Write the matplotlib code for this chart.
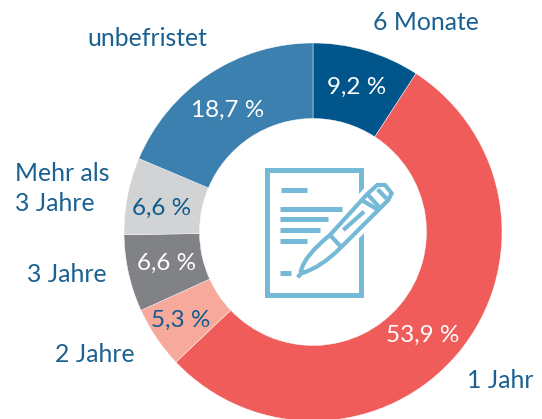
import matplotlib
matplotlib.use('Agg')
import matplotlib.pyplot as plt
from matplotlib.patches import Rectangle, PathPatch
from matplotlib.path import Path

plt.rcParams['font.family'] = ['Lato', 'DejaVu Sans']

WIDTH, HEIGHT = 542, 419

# clockwise from the top
categories = ['6 Monate', '1 Jahr', '2 Jahre', '3 Jahre', 'Mehr als\n3 Jahre', 'unbefristet']
values = [9.2, 53.9, 5.3, 6.6, 6.6, 18.7]
value_labels = ['9,2 %', '53,9 %', '5,3 %', '6,6 %', '6,6 %', '18,7 %']
colors = ['#00558b', '#ef5c5a', '#f7a99c', '#808285', '#d1d3d4', '#3b80ae']
label_colors = ['white', 'white', '#0f5b8e', 'white', '#0f5b8e', 'white']

TEXT_BLUE = '#1a6091'
ICON_BLUE = '#74b9d5'


def py(y):
    # picture y (from the top) to axes y
    return HEIGHT - y


def zoomed(x, y):
    return 250 + x / 3, py(150 + y / 3)


fig = plt.figure(figsize=(WIDTH / 100, HEIGHT / 100), dpi=100)
ax = fig.add_axes([0, 0, 1, 1])

# donut
ax.pie(values, colors=colors, startangle=90, counterclock=False,
       center=(313, py(232)), radius=189, frame=True,
       wedgeprops={'width': 75.5, 'linewidth': 0.3, 'edgecolor': '#ffffff'})
ax.set_xlim(0, WIDTH)
ax.set_ylim(0, HEIGHT)
ax.set_aspect('auto')
ax.axis('off')

# value labels, placed by hand like the original
value_pos = [(357, 87), (423, 335), (181, 320), (167, 263), (162, 208), (228, 110)]
for (x, y), text, color in zip(value_pos, value_labels, label_colors):
    ax.text(x, py(y), text, color=color, fontsize=17.5, ha='center', va='center')

# category labels
cat_pos = [(373, 23), (467, 380), (55, 354), (27, 274), (15, 188.5), (87, 39)]
for (x, y), text in zip(cat_pos, categories):
    ax.text(x, py(y), text, color=TEXT_BLUE, fontsize=17.8, ha='left', va='center',
            linespacing=1.4)

# document icon
ax.add_patch(Rectangle((266.5, py(294.5)), 94, 124, fill=False, edgecolor=ICON_BLUE, linewidth=3.6))
text_lines = [(93, 120, 170), (91, 176, 275), (91, 208, 235), (91, 240, 211), (91, 272, 170), (91, 368, 122)]
for x0, y, x1 in text_lines:
    (xa, ya), (xb, yb) = zoomed(x0, y), zoomed(x1, y)
    ax.plot([xa, xb], [ya, yb], color=ICON_BLUE, lw=3.6, solid_capstyle='butt')

# pen body, white halo first so it cuts the page edge
pen_pts = [(153, 362), (165, 315), (240, 255), (352, 132), (382, 105), (405, 105),
           (425, 130), (415, 150), (385, 180), (270, 295), (215, 350), (160, 368), (153, 362)]
pen_codes = [Path.MOVETO, Path.CURVE3, Path.CURVE3, Path.LINETO, Path.LINETO, Path.LINETO,
             Path.LINETO, Path.LINETO, Path.LINETO, Path.LINETO, Path.CURVE3, Path.CURVE3, Path.CLOSEPOLY]
pen_path = Path([zoomed(x, y) for x, y in pen_pts], pen_codes)
ax.add_patch(PathPatch(pen_path, facecolor='white', edgecolor='white', linewidth=9, zorder=3))
ax.add_patch(PathPatch(pen_path, facecolor='white', edgecolor=ICON_BLUE, linewidth=3, zorder=4))
pen_lines = [((240, 255), (275, 293)), ((335, 150), (385, 180)), ((350, 130), (392, 176)),
             ((383, 118), (410, 146)), ((280, 240), (342, 185)), ((155, 368), (143, 382))]
for a, b in pen_lines:
    (xa, ya), (xb, yb) = zoomed(*a), zoomed(*b)
    ax.plot([xa, xb], [ya, yb], color=ICON_BLUE, lw=3, solid_capstyle='butt', zorder=5)

fig.savefig('out.png', dpi=100)
